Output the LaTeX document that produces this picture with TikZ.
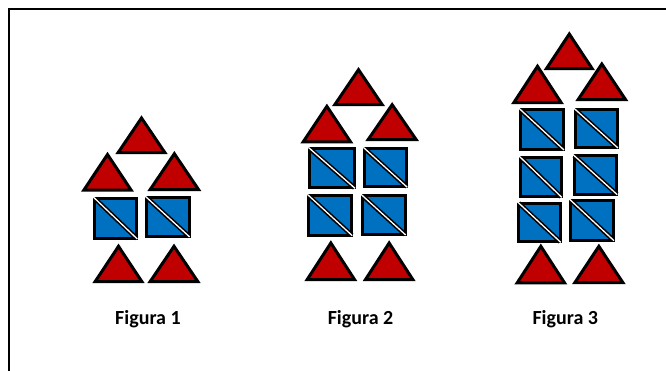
\documentclass[tikz,border=0pt]{standalone}
\usepackage{fontspec}
\setmainfont{Carlito}
\definecolor{tri red}{HTML}{C00000}
\definecolor{sq blue}{HTML}{0070C0}
\tikzset{
  redtri/.style={draw=black, fill=tri red, line width=3pt, line join=miter},
  bluesq/.style={draw=black, fill=sq blue, line width=3pt},
  diagblack/.style={draw=black, line width=4.5pt},
  diagwhite/.style={draw=white, line width=1.3pt},
  lbl/.style={font=\bfseries\fontsize{20}{22}\selectfont, inner sep=0pt}
}
% #1 left x, #2 right x, #3 base y, #4 apex y (outer extents, y down)
\newcommand\myredtri[4]{%
  \draw[redtri] ({#1+2.2},{#3-1.5}) -- ({#2-2.2},{#3-1.5}) -- ({(#1+#2)/2},{#4+3}) -- cycle;}
% #1,#2 top-left; #3,#4 bottom-right (outer)
\newcommand\mybluesq[4]{%
  \draw[bluesq] ({#1+1.5},{#2+1.5}) rectangle ({#3-1.5},{#4-1.5});
  \draw[diagblack] ({#1+1.5},{#2+1.5}) -- ({#3-1.5},{#4-1.5});
  \draw[diagwhite] ({#1},{#2}) -- ({#3-1},{#4-1});}
\begin{document}
\begin{tikzpicture}[x=1pt,y=-1pt]
\useasboundingbox (0,0) rectangle (666,370);
\fill[white] (0,0) rectangle (666,370);
\draw[line width=2pt] (9,371) -- (9,9) -- (667,9);
% Figure 1
\myredtri{116}{167}{154}{115}
\myredtri{81.7}{133.3}{191.5}{151.5}
\myredtri{148}{200.7}{191}{150.7}
\mybluesq{93.3}{197}{138.3}{240}
\mybluesq{145}{196}{190.7}{238}
\myredtri{93}{144}{283}{243.3}
\myredtri{148}{200}{283}{243.3}
% Figure 2
\myredtri{332.7}{384.3}{106}{66.7}
\myredtri{301}{352.7}{143.3}{103.3}
\myredtri{366}{418.3}{141}{101.7}
\mybluesq{308.3}{147.3}{356}{189.3}
\mybluesq{363.3}{147.3}{408.3}{188.3}
\mybluesq{307.3}{194.3}{353.3}{236.7}
\mybluesq{361}{194.3}{406.7}{236}
\myredtri{305}{356.7}{281}{240}
\myredtri{363.3}{415}{281}{240}
% Figure 3
\myredtri{544.3}{594.3}{70}{31}
\myredtri{511.7}{563.3}{104}{63.3}
\myredtri{576}{627.7}{101}{61}
\mybluesq{519}{108.3}{565}{151}
\mybluesq{574}{108.3}{619}{149}
\mybluesq{519}{156}{562.7}{198.3}
\mybluesq{572.7}{154.3}{618.3}{195.7}
\mybluesq{517.3}{201.7}{561.7}{243.3}
\mybluesq{569.3}{199}{615}{241.7}
\myredtri{515}{566.7}{284.3}{243.3}
\myredtri{572.7}{625}{284}{243.3}
% labels
\node[lbl, anchor=base] (f1) at (148,324) {Figura 1};
\node[lbl, anchor=base] (f2) at (360.5,324) {Figura 2};
\node[lbl, anchor=base] (f3) at (565.3,324) {Figura 3};
\end{tikzpicture}
\end{document}
